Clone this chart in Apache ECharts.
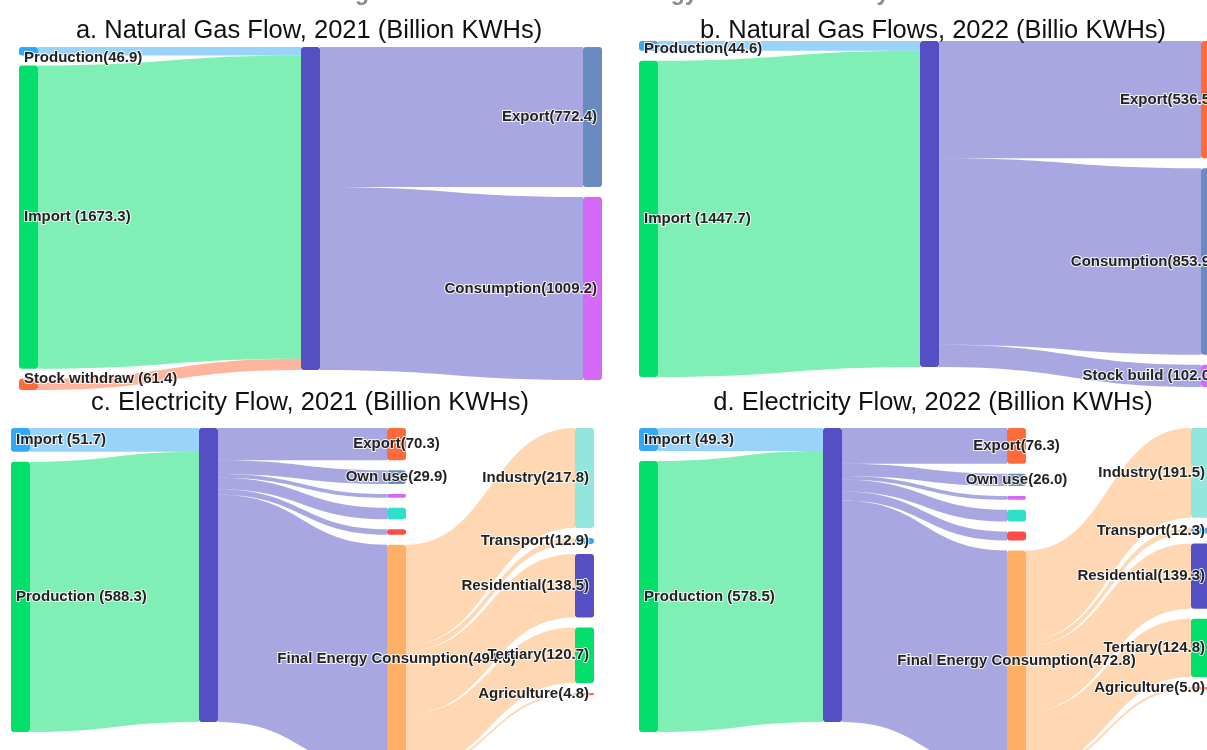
<!DOCTYPE html>
<html>
<head>
<meta charset="utf-8">
<script src="https://cdn.jsdelivr.net/npm/echarts@6/dist/echarts.min.js"></script>
<style>
  html, body { margin: 0; padding: 0; background: #ffffff; }
  #chart { width: 1207px; height: 750px; }
</style>
</head>
<body>
<div id="chart"></div>
<script>
// ---- Natural gas, 2021 (billion kWh) ----
const gas21Sources = ['Production', 'Import ', 'Stock withdraw '];
const gas21SourceValues = [46.9, 1673.3, 61.4];
const gas21Uses = ['Export', 'Consumption'];
const gas21UseValues = [772.4, 1009.2];

// ---- Natural gas, 2022 (billion kWh) ----
const gas22Sources = ['Production', 'Import '];
const gas22SourceValues = [44.6, 1447.7];
const gas22Uses = ['Export', 'Consumption', 'Stock build '];
const gas22UseValues = [536.5, 853.9, 102.0];

// ---- Electricity, 2021 (billion kWh) ----
const elec21Sources = ['Import ', 'Production '];
const elec21SourceValues = [51.7, 588.3];
const elec21Uses = ['Export', 'Own use', 'Pumping', 'Losses', 'Other', 'Final Energy Consumption'];
const elec21UseValues = [70.3, 29.9, 8.0, 25.0, 12.2, 494.6];
const elec21Sectors = ['Industry', 'Transport', 'Residential', 'Tertiary', 'Agriculture'];
const elec21SectorValues = [217.8, 12.9, 138.5, 120.7, 4.8];

// ---- Electricity, 2022 (billion kWh) ----
const elec22Sources = ['Import ', 'Production '];
const elec22SourceValues = [49.3, 578.5];
const elec22Uses = ['Export', 'Own use', 'Pumping', 'Losses', 'Other', 'Final Energy Consumption'];
const elec22UseValues = [76.3, 26.0, 8.0, 25.5, 19.2, 472.8];
const elec22Sectors = ['Industry', 'Transport', 'Residential', 'Tertiary', 'Agriculture'];
const elec22SectorValues = [191.5, 12.3, 139.3, 124.8, 5.0];

// Nodes that carry no caption
const unlabeled = ['Pumping', 'Losses', 'Other'];

const panelTitles = [
  'a. Natural Gas Flow, 2021 (Billion KWHs)',
  'b. Natural Gas Flows, 2022 (Billio KWHs)',
  'c. Electricity Flow, 2021 (Billion KWHs)',
  'd. Electricity Flow, 2022 (Billion KWHs)'
];
const figureTitle = 'Figure 3. Natural Gas and Energy Flow in Germany';

// ---- colours ----
const C = {
  blue: '#33a8f6',
  green: '#02df6b',
  orange: '#ff6a3b',
  hub: '#5450c4',
  steel: '#6a8bbf',
  violet: '#d468f7',
  teal: '#2fdfc8',
  red: '#ff4a45',
  amber: '#ffb066',
  aqua: '#92e6de'
};

const sum = a => a.reduce((s, v) => s + v, 0);
const stem = s => s.trim();

function node(name, value, color, position, extraLabel) {
  const show = position !== null && unlabeled.indexOf(name) < 0;
  return {
    name: name,
    value: value,
    itemStyle: { color: color },
    label: Object.assign({ show: show, position: position || 'inside' }, extraLabel || {})
  };
}

// label stems, keyed by series index and node name
const labelStems = [{}, {}, {}, {}];

function gasPanel(idx, sources, sValues, sColors, uses, uValues, uColors, labelOffsets) {
  const hubName = 'Natural gas';
  const data = [];
  const links = [];
  sources.forEach((s, i) => {
    const n = stem(s);
    labelStems[idx][n] = s;
    data.push(node(n, sValues[i], sColors[i], 'insideLeft', labelOffsets[n]));
    links.push({ source: n, target: hubName, value: sValues[i] });
  });
  data.push(node(hubName, sum(sValues), C.hub, null));
  uses.forEach((u, i) => {
    const n = stem(u);
    labelStems[idx][n] = u;
    data.push(node(n, uValues[i], uColors[i], 'insideRight', labelOffsets[n]));
    links.push({ source: hubName, target: n, value: uValues[i] });
  });
  return { data, links };
}

function elecPanel(idx, sources, sValues, uses, uValues, uColors, sectors, secValues, secColors) {
  const hubName = 'Electricity';
  const data = [];
  const links = [];
  const sColors = [C.blue, C.green];
  sources.forEach((s, i) => {
    const n = stem(s);
    labelStems[idx][n] = s;
    data.push(node(n, sValues[i], sColors[i], 'insideLeft'));
    links.push({ source: n, target: hubName, value: sValues[i] });
  });
  data.push(node(hubName, sum(sValues), C.hub, null));
  uses.forEach((u, i) => {
    labelStems[idx][u] = u;
    data.push(node(u, uValues[i], uColors[i], 'inside'));
    links.push({ source: hubName, target: u, value: uValues[i] });
  });
  const fec = uses[uses.length - 1];
  sectors.forEach((s, i) => {
    labelStems[idx][s] = s;
    data.push(node(s, secValues[i], secColors[i], 'insideRight'));
    links.push({ source: fec, target: s, value: secValues[i] });
  });
  return { data, links };
}

const useColors = [C.orange, C.steel, C.violet, C.teal, C.red, C.amber];
const sectorColors = [C.aqua, C.blue, C.hub, C.green, C.orange];

const panels = [
  gasPanel(0, gas21Sources, gas21SourceValues, [C.blue, C.green, C.orange],
           gas21Uses, gas21UseValues, [C.steel, C.violet],
           { 'Production': { offset: [0, 7] }, 'Stock withdraw': { offset: [0, -6] } }),
  gasPanel(1, gas22Sources, gas22SourceValues, [C.blue, C.green],
           gas22Uses, gas22UseValues, [C.orange, C.steel, C.violet],
           { 'Production': { offset: [0, 3] } }),
  elecPanel(2, elec21Sources, elec21SourceValues, elec21Uses, elec21UseValues, useColors,
            elec21Sectors, elec21SectorValues, sectorColors),
  elecPanel(3, elec22Sources, elec22SourceValues, elec22Uses, elec22UseValues, useColors,
            elec22Sectors, elec22SectorValues, sectorColors)
];

// panel boxes
const boxes = [
  { left: 19, top: 47, width: 583, height: 343 },
  { left: 639, top: 41, width: 581, height: 346 },
  { left: 11, top: 428, width: 583, height: 344 },
  { left: 639, top: 428, width: 571, height: 344 }
];

const series = panels.map((p, i) => Object.assign({
  type: 'sankey',
  nodeWidth: 19,
  nodeGap: 10,
  nodeAlign: 'left',
  layoutIterations: 0,
  draggable: false,
  silent: true,
  emphasis: { disabled: true },
  itemStyle: { borderWidth: 0, borderRadius: 3 },
  lineStyle: { color: 'source', opacity: 0.5, curveness: 0.5 },
  label: {
    fontFamily: 'Liberation Sans',
    fontWeight: 'bold',
    fontSize: 15,
    color: '#222222',
    textBorderColor: 'rgba(255,255,255,0.85)',
    textBorderWidth: 2,
    distance: 5,
    formatter: prm => labelStems[i][prm.name] + '(' + Number(prm.value).toFixed(1) + ')'
  },
  data: p.data,
  links: p.links
}, boxes[i]));

const titleCenters = [[309, 18], [933, 18], [310, 390], [933, 390]];
const titles = panelTitles.map((t, i) => ({
  text: t,
  left: titleCenters[i][0],
  top: titleCenters[i][1],
  textAlign: 'center',
  padding: 0,
  textStyle: { fontFamily: 'Liberation Sans', fontSize: 25.5, fontWeight: 'normal', color: '#111111' }
}));
titles.unshift({
  text: figureTitle,
  left: 612,
  top: -18,
  textAlign: 'center',
  padding: 0,
  textStyle: { fontFamily: 'Liberation Sans', fontSize: 23, fontWeight: 'bold', color: '#8c8c8c' }
});

const chart = echarts.init(document.getElementById('chart'), null, { renderer: 'canvas' });
chart.setOption({
  backgroundColor: '#ffffff',
  animation: false,
  title: titles,
  series: series
});
</script>
</body>
</html>
